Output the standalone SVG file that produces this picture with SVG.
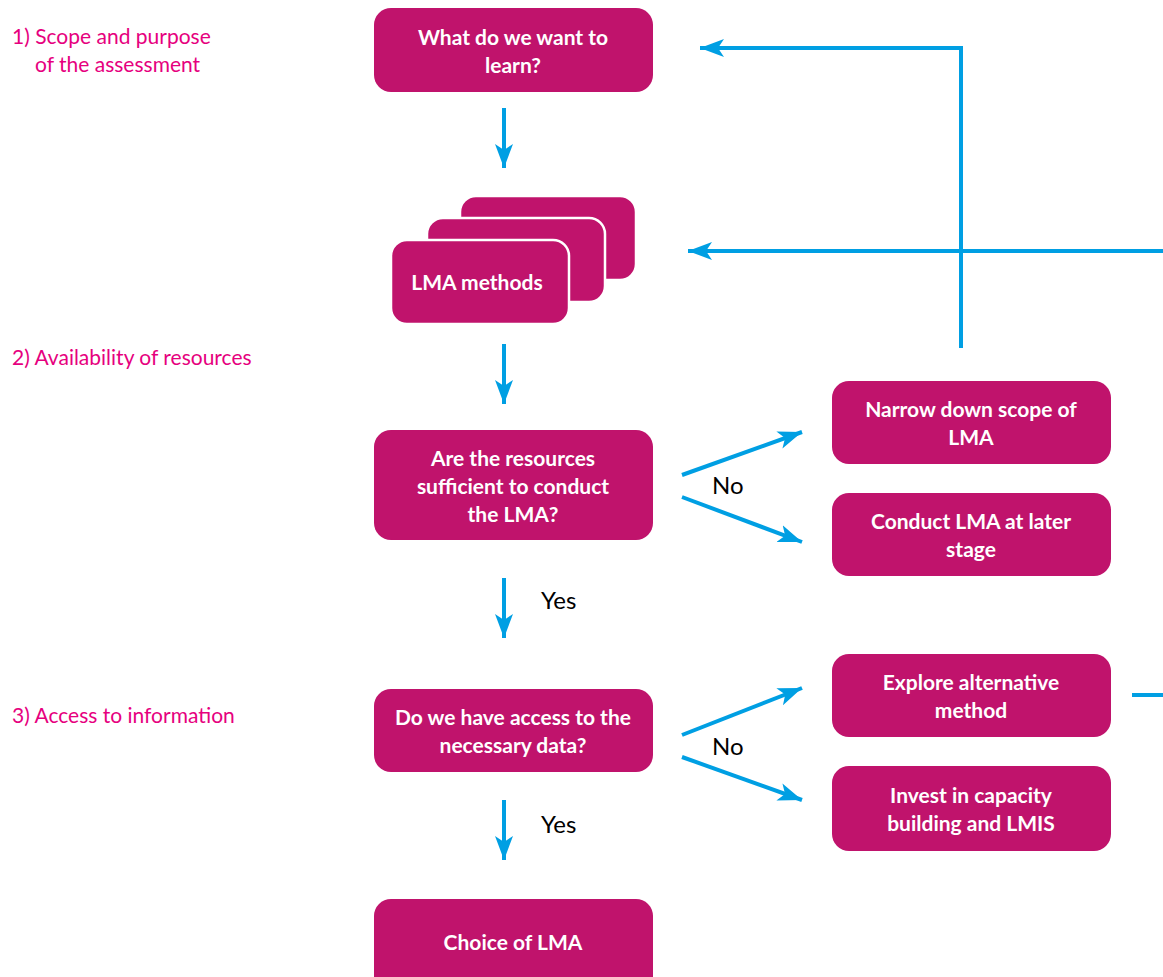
<svg xmlns="http://www.w3.org/2000/svg" width="1163" height="977" viewBox="0 0 1163 977">
<style>
.box{fill:#C0136C;}
.stack{fill:#C0136C;stroke:#ffffff;stroke-width:2.5;}
.bt{font-family:Lato,"Liberation Sans",sans-serif;font-weight:bold;font-size:21px;fill:#ffffff;text-anchor:middle;}
.lab{font-family:Lato,"Liberation Sans",sans-serif;font-size:21px;fill:#E6007E;}
.yn{font-family:Lato,"Liberation Sans",sans-serif;font-size:24px;fill:#000000;}
.ln{stroke:#009FE3;stroke-width:4;fill:none;}
.ar{stroke:#009FE3;stroke-width:4;fill:none;marker-end:url(#ah);}
</style>
<defs>
<marker id="ah" markerUnits="userSpaceOnUse" markerWidth="26" markerHeight="20" viewBox="0 0 26 20" refX="24" refY="10" orient="auto">
<path d="M0,1 L24,10 L0,19 L6,10 z" fill="#009FE3"/>
</marker>
</defs>
<g id="labels">
<text class="lab" x="12" y="44">1) Scope and purpose</text>
<text class="lab" x="35" y="72">of the assessment</text>
<text class="lab" x="12" y="365">2) Availability of resources</text>
<text class="lab" x="12" y="723">3) Access to information</text>
</g>
<g id="connectors">
<line class="ar" x1="504" y1="108" x2="504" y2="168"/>
<line class="ar" x1="504" y1="344" x2="504" y2="404"/>
<line class="ar" x1="504" y1="578" x2="504" y2="638"/>
<line class="ar" x1="504" y1="800" x2="504" y2="860"/>
<line class="ar" x1="682" y1="475" x2="802" y2="432"/>
<line class="ar" x1="682" y1="497" x2="802" y2="542"/>
<line class="ar" x1="682" y1="735" x2="802" y2="688"/>
<line class="ar" x1="682" y1="757" x2="802" y2="800"/>
<polyline class="ar" points="961,348 961,48 700,48"/>
<line class="ar" x1="1163" y1="251" x2="688" y2="251"/>
<line class="ln" x1="1132" y1="695" x2="1163" y2="695"/>
<text class="yn" x="712" y="494">No</text>
<text class="yn" x="712" y="755">No</text>
<text class="yn" x="541" y="609">Yes</text>
<text class="yn" x="541" y="833">Yes</text>
</g>
<g id="n1">
<rect class="box" x="374" y="8" width="279" height="84" rx="17"/>
<text class="bt" x="513" y="45">What do we want to</text>
<text class="bt" x="513" y="73">learn?</text>
</g>
<g id="n2">
<rect class="stack" x="460" y="196" width="176" height="84" rx="16"/>
<rect class="stack" x="427" y="218" width="178" height="84" rx="16"/>
<rect class="stack" x="391" y="240" width="178" height="84" rx="16"/>
<text class="bt" x="477" y="290">LMA methods</text>
</g>
<g id="n3">
<rect class="box" x="374" y="430" width="279" height="110" rx="17"/>
<text class="bt" x="513" y="466">Are the resources</text>
<text class="bt" x="513" y="494">sufficient to conduct</text>
<text class="bt" x="513" y="522">the LMA?</text>
</g>
<g id="n4">
<rect class="box" x="832" y="381" width="279" height="83" rx="17"/>
<text class="bt" x="971" y="417">Narrow down scope of</text>
<text class="bt" x="971" y="445">LMA</text>
</g>
<g id="n5">
<rect class="box" x="832" y="493" width="279" height="83" rx="17"/>
<text class="bt" x="971" y="529">Conduct LMA at later</text>
<text class="bt" x="971" y="557">stage</text>
</g>
<g id="n6">
<rect class="box" x="374" y="689" width="279" height="83" rx="17"/>
<text class="bt" x="513" y="725">Do we have access to the</text>
<text class="bt" x="513" y="753">necessary data?</text>
</g>
<g id="n7">
<rect class="box" x="832" y="654" width="279" height="83" rx="17"/>
<text class="bt" x="971" y="690">Explore alternative</text>
<text class="bt" x="971" y="718">method</text>
</g>
<g id="n8">
<rect class="box" x="832" y="766" width="279" height="85" rx="17"/>
<text class="bt" x="971" y="803">Invest in capacity</text>
<text class="bt" x="971" y="831">building and LMIS</text>
</g>
<g id="n9">
<rect class="box" x="374" y="899" width="279" height="95" rx="17"/>
<text class="bt" x="513" y="950">Choice of LMA</text>
</g>
</svg>
